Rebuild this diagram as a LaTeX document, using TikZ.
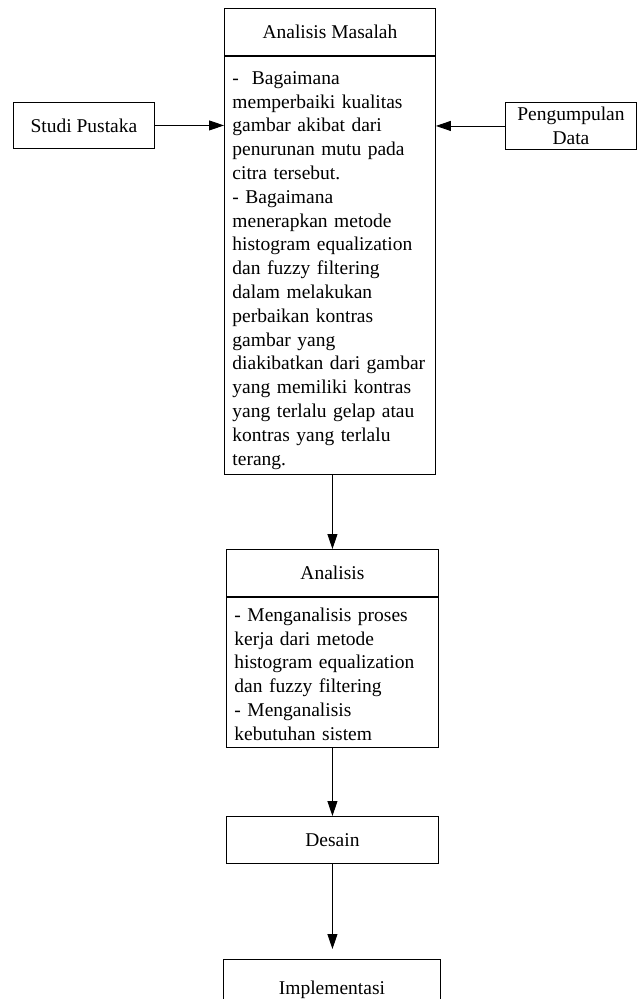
\documentclass[tikz,border=0pt]{standalone}
\usepackage{fontspec}
\setmainfont{Liberation Serif}
\usepackage{tikz}
\usetikzlibrary{arrows.meta, positioning}

\begin{document}
\begin{tikzpicture}[
    x=1pt,
    y=-1pt,
    >={Triangle[length=15pt, width=10pt]},
    line width=0.9pt,
    % Gaya kotak judul dan kotak isi
    judul/.style={draw, anchor=north west, inner sep=0pt, minimum height=47pt,
        text height=13.3pt, text depth=0pt,
        font=\fontsize{19.5pt}{23.8pt}\selectfont},
    isi/.style 2 args={draw, inner xsep=8pt, inner ysep=0pt, align=left,
        font=\fontsize{19.5pt}{23.8pt}\selectfont,
        execute at begin node={\rule{0pt}{#1}},
        execute at end node={\rule[-#2]{0pt}{0pt}}}
]
    \useasboundingbox (0,0) rectangle (637,999);

    % --- 1. KOTAK ANALISIS MASALAH ---
    \node[judul, minimum width=211pt] (masalah) at (224,8) {Analisis Masalah};
    \node[isi={28pt}{9.2pt}, text width=195pt, below=0pt of masalah] (masalahisi) {%
        - \ Bagaimana\\
        memperbaiki kualitas\\
        gambar akibat dari\\
        penurunan mutu pada\\
        citra tersebut.\\
        - Bagaimana\\
        menerapkan metode\\
        histogram equalization\\
        dan fuzzy filtering\\
        dalam melakukan\\
        perbaikan kontras\\
        gambar yang\\
        diakibatkan dari gambar\\
        yang memiliki kontras\\
        yang terlalu gelap atau\\
        kontras yang terlalu\\
        terang.};

    % --- 2. MASUKAN SAMPING ---
    \node[judul, minimum width=141pt, minimum height=46pt] (studi) at (13,102) {Studi Pustaka};
    \node[draw, anchor=north west, inner sep=0pt, minimum width=131pt, minimum height=47pt,
        align=center, font=\fontsize{19.5pt}{23.8pt}\selectfont] (data) at (505,102) {Pengumpulan\\Data};

    % --- 3. KOTAK ANALISIS ---
    \node[judul, minimum width=212pt] (analisis) at (226,549) {Analisis};
    \node[isi={24pt}{7pt}, text width=196pt, below=0pt of analisis] (analisisisi) {%
        - Menganalisis proses\\
        kerja dari metode\\
        histogram equalization\\
        dan fuzzy filtering\\
        - Menganalisis\\
        kebutuhan sistem};

    % --- 4. DESAIN DAN IMPLEMENTASI ---
    \node[judul, minimum width=212pt] (desain) at (226,816) {Desain};
    \node[judul, minimum width=217pt, minimum height=56pt] (implementasi) at (223,959) {Implementasi};

    % --- 5. PANAH ---
    \draw[->] (studi.east) -- (studi.east -| masalahisi.west);
    \draw[->] (data.west) -- (data.west -| masalahisi.east);
    \draw[->] (analisis.north |- masalahisi.south) -- (analisis.north);
    \draw[->] (analisisisi.south) -- (desain.north);
    \draw[->, shorten >=10pt] (desain.south) -- (desain.south |- implementasi.north);

\end{tikzpicture}
\end{document}
